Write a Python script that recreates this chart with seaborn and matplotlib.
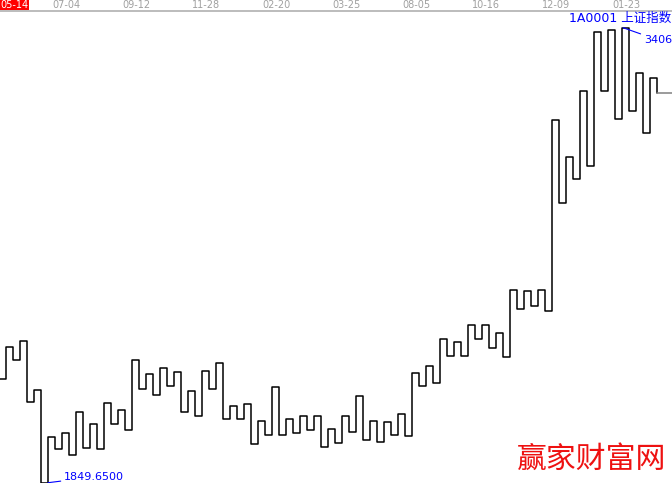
import matplotlib
matplotlib.use('Agg')
import matplotlib.pyplot as plt
import matplotlib.transforms as mtransforms
from matplotlib.patches import Rectangle
from matplotlib.lines import Line2D
import seaborn as sns
import pandas as pd

# Kagi turning levels of 1A0001 (Shanghai Composite), left to right
levels = [2205, 2315, 2270, 2335, 2127, 2168, 1849.65, 2007, 1966, 2021,
          1945, 2093, 1969, 2051, 1966, 2123, 2051, 2099, 2031, 2270,
          2171, 2222, 2151, 2243, 2181, 2229, 2093, 2164, 2079, 2233,
          2171, 2260, 2069, 2113, 2069, 2120, 1983, 2062, 2014, 2178,
          2014, 2069, 2021, 2079, 2031, 2079, 1973, 2034, 1986, 2079,
          2024, 2147, 1997, 2062, 1990, 2058, 2014, 2086, 2010, 2226,
          2181, 2250, 2192, 2342, 2284, 2332, 2284, 2390, 2342, 2390,
          2311, 2363, 2281, 2510, 2445, 2506, 2455, 2510, 2438, 3091,
          2807, 2965, 2889, 3190, 2934, 3392, 3190, 3399, 3095, 3406,
          3122, 3252, 3047, 3235, 3184]
date_labels = ['07-04', '09-12', '11-28', '02-20', '03-25',
               '08-05', '10-16', '12-09', '01-23']
first_date = '05-14'
title_text = '1A0001 上证指数'
high_value = 3406
low_value = 1849.65
watermark = '赢家财富网'

W, H = 672, 483
px_per_col = 7
price_per_px = (high_value - low_value) / 455.0

sns.set_theme(style='white')
plt.rcParams['font.family'] = ['DejaVu Sans', 'Noto Sans CJK SC']

fig = plt.figure(figsize=(W / 100, H / 100), dpi=100)
fig.patch.set_facecolor('white')
ax = fig.add_axes([0, 0, 1, 1])
ax.set_facecolor('white')
for s in ax.spines.values():
    s.set_visible(False)
ax.set_xticks([])
ax.set_yticks([])

x_left = 1 / px_per_col
x_right = (W + 1) / px_per_col
ax.set_xlim(x_left, x_right)
ymin = low_value - 1.0
ax.set_ylim(ymin, ymin + H * price_per_px)

xs = [x_left] + list(range(1, len(levels)))
df = pd.DataFrame({'col': xs, 'price': levels})
sns.lineplot(data=df, x='col', y='price', ax=ax, sort=False, estimator=None,
             drawstyle='steps-post', color='black', linewidth=1.1)

# current price stub
ax.plot([len(levels) - 1, x_right], [levels[-1], levels[-1]],
        color='#808080', linewidth=1.1)

# header date bar
fig.add_artist(Line2D([0, 1], [1 - 10.5 / H, 1 - 10.5 / H],
                      transform=fig.transFigure, color='#b0b0b0', linewidth=1.2))
fig.add_artist(Rectangle((0, 1 - 10 / H), 29 / W, 10 / H,
                         transform=fig.transFigure, facecolor='#ff0000',
                         edgecolor='none'))
fig.text(0.5 / W, 1 - 5 / H, first_date, color='white', fontsize=7,
         ha='left', va='center')
trans = mtransforms.blended_transform_factory(ax.transData, ax.transAxes)
for i, lab in enumerate(date_labels):
    ax.text((53 + 70 * i) / px_per_col, 1 - 5 / H, lab, transform=trans,
            color='#a0a0a0', fontsize=7, ha='left', va='center')

# title
fig.text(671 / W, 1 - 18 / H, title_text, color='#0000ff', fontsize=9,
         ha='right', va='center')

# high / low annotations
hi_idx = levels.index(high_value)
ax.annotate(f'{high_value}', xy=(hi_idx + 0.15, high_value),
            xytext=(672, 483 - 40), textcoords='figure pixels',
            color='#0000ff', fontsize=8, ha='right', va='center',
            arrowprops=dict(arrowstyle='-', color='#0000ff', lw=0.8,
                            shrinkA=14, shrinkB=0))
lo_idx = levels.index(low_value)
ax.annotate(f'{low_value:.4f}', xy=(lo_idx + 1, low_value),
            xytext=(64, 483 - 477), textcoords='figure pixels',
            color='#0000ff', fontsize=8, ha='left', va='center',
            arrowprops=dict(arrowstyle='-', color='#0000ff', lw=0.8,
                            shrinkA=0, shrinkB=0))

# watermark
fig.text(592 / W, 1 - 459 / H, watermark, color='#ee1111', fontsize=21.5,
         ha='center', va='center', family=['Noto Sans CJK SC'],
         fontweight='light')

fig.savefig('out.png', dpi=100, facecolor='white')
